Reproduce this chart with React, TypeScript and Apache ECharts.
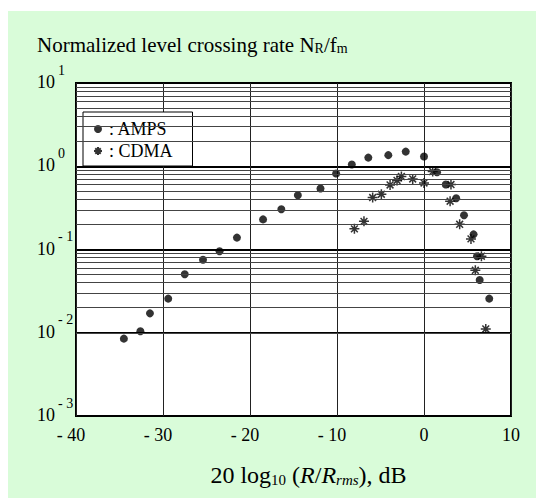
import React, { useEffect, useRef } from 'react';
import * as echarts from 'echarts';

const xTicks = [-40, -30, -20, -10, 0, 10];
const yDecades = [0.001, 0.01, 0.1, 1, 10];
const minorMultipliers = [2, 3, 4, 5, 6, 7, 8, 9];

const ampsX = [-34.5, -32.6, -31.5, -29.4, -27.5, -25.4, -23.5, -21.5, -18.5, -16.4, -14.5, -11.9, -10.1, -8.3, -6.4, -4.1, -2.1, 0.0, 1.5, 2.5, 3.7, 4.6, 5.7, 6.1, 6.4, 7.5];
const ampsY = [0.0085, 0.0104, 0.0171, 0.0257, 0.0504, 0.0753, 0.0953, 0.139, 0.23, 0.304, 0.449, 0.54, 0.817, 1.048, 1.27, 1.36, 1.5, 1.31, 0.847, 0.603, 0.413, 0.258, 0.152, 0.083, 0.043, 0.0257];
const cdmaX = [-8.0, -6.9, -5.9, -4.9, -3.9, -3.1, -2.6, -1.3, 0.0, 1.0, 3.1, 3.0, 4.1, 5.4, 6.6, 5.9, 7.1];
const cdmaY = [0.177, 0.218, 0.421, 0.461, 0.596, 0.675, 0.752, 0.703, 0.63, 0.864, 0.603, 0.38, 0.201, 0.134, 0.083, 0.0563, 0.0111];

const seriesNames = ['AMPS', 'CDMA'];
const titleText = 'Normalized level crossing rate N';
const FONT = "'Liberation Serif', 'Times New Roman', serif";
const STAR = 'path://M0,5L10,5M5,0L5,10M1.6,1.6L8.4,8.4M8.4,1.6L1.6,8.4';

export default function App() {
  const ref = useRef<HTMLDivElement>(null);
  useEffect(() => {
    if (!ref.current) return;
    const chart = echarts.init(ref.current, null, { renderer: 'svg' });
    const minorLines: any[] = [];
    yDecades.slice(0, -1).forEach((d) => {
      minorMultipliers.forEach((m) => minorLines.push({ yAxis: d * m }));
    });
    const option: any = {
      animation: false,
      backgroundColor: '#d9fcd9',
      textStyle: { fontFamily: FONT, color: '#000' },
      title: {
        text: `{t|${titleText}}{sub|R}{t|/f}{sub|m}`,
        left: 29,
        top: 20,
        padding: 0,
        textStyle: {
          fontWeight: 'normal',
          rich: {
            t: { fontFamily: FONT, fontSize: 21, fontWeight: 'normal', lineHeight: 24, verticalAlign: 'bottom', color: '#000' },
            sub: { fontFamily: FONT, fontSize: 14, fontWeight: 'normal', lineHeight: 14, verticalAlign: 'bottom', color: '#000' },
          },
        },
      },
      legend: {
        left: 75,
        top: 101,
        orient: 'vertical',
        backgroundColor: '#fff',
        borderColor: '#000',
        borderWidth: 1,
        borderRadius: 0,
        padding: [8, 20, 6, 10],
        itemGap: 4,
        itemWidth: 12,
        itemHeight: 8,
        formatter: ': {name}',
        textStyle: { fontFamily: FONT, fontSize: 18, color: '#000' },
        data: [
          { name: seriesNames[0], icon: 'circle' },
          { name: seriesNames[1], icon: STAR },
        ],
      },
      grid: {
        left: 68,
        top: 72,
        width: 435,
        height: 333,
        show: true,
        backgroundColor: '#fff',
        borderColor: '#000',
        borderWidth: 2,
      },
      xAxis: {
        type: 'value',
        min: xTicks[0],
        max: xTicks[xTicks.length - 1],
        interval: 10,
        axisLine: { show: false },
        axisTick: { show: false },
        splitLine: { show: true, lineStyle: { color: '#222', width: 1 } },
        axisLabel: {
          margin: 9,
          formatter: (v: number) => (v < 0 ? `{n|- ${-v}}` : `{p|${v}}`),
          rich: {
            n: { fontFamily: FONT, fontSize: 18, lineHeight: 20, color: '#000', padding: [0, 10, 0, 0] },
            p: { fontFamily: FONT, fontSize: 18, lineHeight: 20, color: '#000' },
          },
        },
        name: '{n|20 log}{sub|10}{n| (}{i|R}{n|/}{i|R}{isub|rms}{n|), dB}',
        nameLocation: 'middle',
        nameGap: 43,
        nameTextStyle: {
          padding: [0, 0, 0, 30],
          rich: {
            n: { fontFamily: FONT, fontSize: 24, lineHeight: 28, verticalAlign: 'bottom', color: '#000' },
            i: { fontFamily: FONT, fontSize: 24, lineHeight: 28, verticalAlign: 'bottom', fontStyle: 'italic', color: '#000' },
            sub: { fontFamily: FONT, fontSize: 15, lineHeight: 15, verticalAlign: 'bottom', color: '#000' },
            isub: { fontFamily: FONT, fontSize: 15, lineHeight: 15, verticalAlign: 'bottom', fontStyle: 'italic', color: '#000' },
          },
        },
      },
      yAxis: {
        type: 'log',
        logBase: 10,
        min: yDecades[0],
        max: yDecades[yDecades.length - 1],
        axisLine: { show: false },
        axisTick: { show: false },
        splitLine: { show: true, lineStyle: { color: '#000', width: 2 } },
        axisLabel: {
          align: 'left',
          margin: 39,
          padding: [0, 0, 12, 0],
          formatter: (v: number) => {
            const e = Math.round(Math.log10(v));
            const s = e < 0 ? `- ${-e}` : `${e}`;
            return `{b|10}{s|${s}}`;
          },
          rich: {
            b: { fontFamily: FONT, fontSize: 18, lineHeight: 28, verticalAlign: 'bottom', color: '#000' },
            s: { fontFamily: FONT, fontSize: 14, lineHeight: 14, verticalAlign: 'top', color: '#000', padding: [0, 0, 0, 3] },
          },
        },
      },
      series: [
        {
          type: 'scatter',
          name: '__grid',
          data: [],
          z: 1,
          silent: true,
          markLine: {
            silent: true,
            symbol: ['none', 'none'],
            label: { show: false },
            lineStyle: { color: '#444', width: 1, type: 'solid' },
            emphasis: { disabled: true },
            data: minorLines,
          },
        },
        {
          type: 'scatter',
          name: seriesNames[0],
          z: 3,
          symbol: 'circle',
          symbolSize: 8,
          itemStyle: { color: '#000' },
          data: ampsX.map((x, i) => [x, ampsY[i]]),
        },
        {
          type: 'scatter',
          name: seriesNames[1],
          z: 3,
          symbol: STAR,
          symbolSize: 10,
          itemStyle: { color: '#000', borderColor: '#000', borderWidth: 1.5 },
          data: cdmaX.map((x, i) => [x, cdmaY[i]]),
        },
      ],
    };
    chart.setOption(option);
    return () => chart.dispose();
  }, []);
  return (
    <div
      ref={ref}
      style={{ position: 'absolute', left: 8, top: 11, width: 528, height: 487 }}
    />
  );
}
